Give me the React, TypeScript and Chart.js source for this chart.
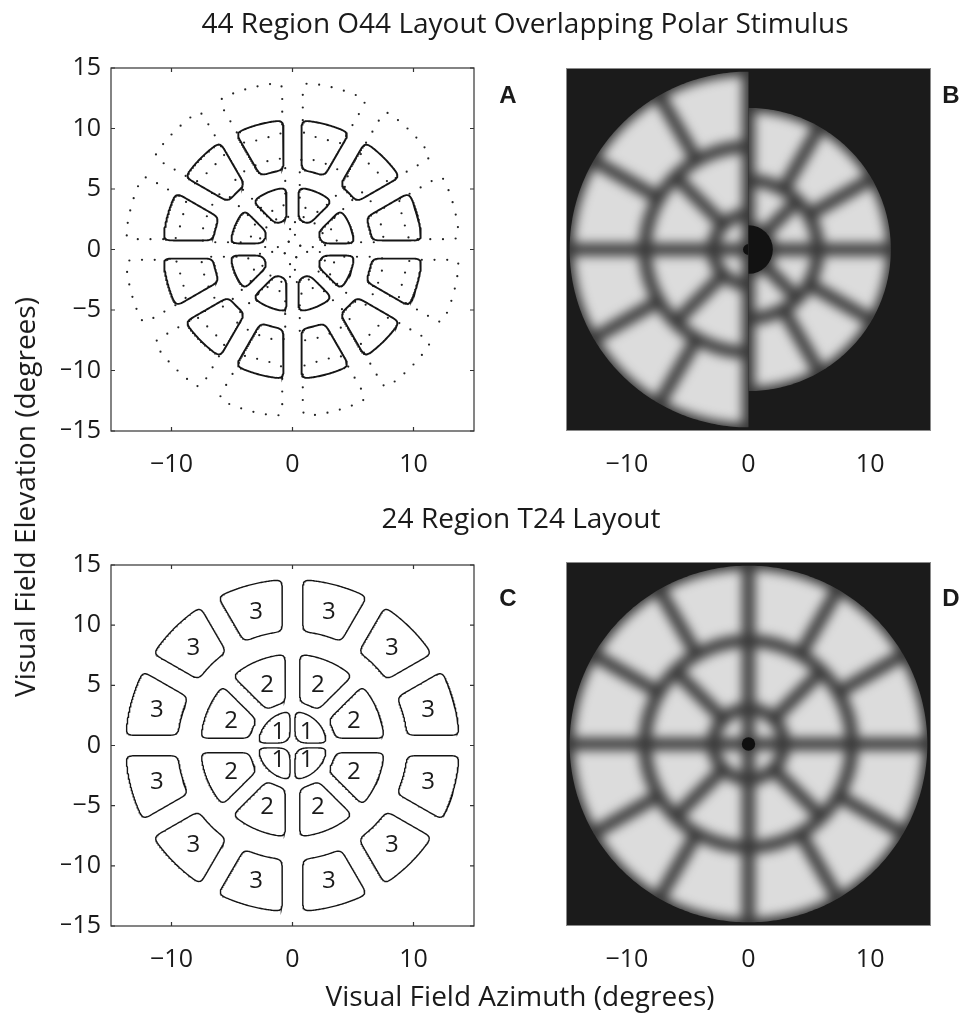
import React, { useEffect, useRef } from 'react';
import { Chart, registerables } from 'chart.js';
Chart.register(...registerables);

// ---------------- Data ----------------
const AXIS_MIN = -15;
const AXIS_MAX = 15;
const X_TICKS = [-10, 0, 10];
const Y_TICKS = [-15, -10, -5, 0, 5, 10, 15];

// T24 layout: ring boundary radii (deg) and number of sectors per ring
const T24_RING_RADII = [0.5, 2.9, 8.5, 14.7];
const T24_SECTORS = [4, 8, 12];
const T24_LABELS = ['1', '2', '3'];
const T24_LABEL_RADII = [1.65, 5.5, 11.6];
const T24_CENTER_DOT = 0.55;

// O44 overlapping half-field layout
const O44_RING_RADII = [2.0, 5.7, 11.7];
const O44_SECTORS = [8, 12];

// contour insets per ring [inner, outer, side] in degrees
const T24_INSETS = [[0.12, 0.05, 0.2], [0.7, 0.9, 0.6], [1.0, 0.9, 0.85]];
const O44_INSETS = [[0.45, 0.55, 0.5], [0.9, 1.0, 0.75]];

const TITLE_TOP = '44 Region O44 Layout Overlapping Polar Stimulus';
const TITLE_BOTTOM = '24 Region T24 Layout';
const X_LABEL = 'Visual Field Azimuth (degrees)';
const Y_LABEL = 'Visual Field Elevation (degrees)';

// ---------------- Style ----------------
const FONT = '"Open Sans", "DejaVu Sans", sans-serif';
const INK = '#1a1a1a';
const BG = '#1b1b1b';
const BASE = '#393939';
const LIGHT = '#dcdcdc';
const GAP = 0.52;
const BLUR = 5.5;
const TICK_SIZE = 25;

type P = { x: number; y: number };
const D2R = Math.PI / 180;

function sectorPolygon(r0: number, r1: number, a0: number, a1: number, dIn: number, dOut: number, dS: number): P[] {
  const ri = r0 + dIn, ro = r1 - dOut;
  const pts: P[] = [];
  const arc = (r: number, from: number, to: number) => {
    const n = Math.max(6, Math.ceil(Math.abs(to - from) * r / 0.05));
    for (let i = 0; i <= n; i++) {
      const t = from + (to - from) * i / n;
      pts.push({ x: r * Math.cos(t), y: r * Math.sin(t) });
    }
  };
  const A0 = a0 * D2R, A1 = a1 * D2R;
  const si = Math.asin(Math.min(1, dS / ri));
  const so = Math.asin(Math.min(1, dS / ro));
  if (A1 - si < A0 + si) {
    const m = (A0 + A1) / 2;
    const apex = dS / Math.sin((A1 - A0) / 2);
    pts.push({ x: apex * Math.cos(m), y: apex * Math.sin(m) });
  } else {
    arc(ri, A0 + si, A1 - si);
  }
  arc(ro, A1 - so, A0 + so);
  return pts;
}

function resampleClosed(pts: P[], step: number): P[] {
  const out: P[] = [];
  const n = pts.length;
  let carry = 0;
  for (let i = 0; i < n; i++) {
    const a = pts[i], b = pts[(i + 1) % n];
    const len = Math.hypot(b.x - a.x, b.y - a.y);
    let t = carry;
    while (t < len) {
      out.push({ x: a.x + (b.x - a.x) * t / len, y: a.y + (b.y - a.y) * t / len });
      t += step;
    }
    carry = t - len;
  }
  return out;
}

function smoothClosed(pts: P[], half: number, passes: number): P[] {
  let cur = pts;
  for (let p = 0; p < passes; p++) {
    const n = cur.length;
    const next: P[] = [];
    for (let i = 0; i < n; i++) {
      let sx = 0, sy = 0;
      for (let j = -half; j <= half; j++) {
        const q = cur[(i + j + n * 4) % n];
        sx += q.x; sy += q.y;
      }
      next.push({ x: sx / (2 * half + 1), y: sy / (2 * half + 1) });
    }
    cur = next;
  }
  return cur;
}

function layoutContours(radii: number[], sectors: number[], insets: number[][]): P[][] {
  const shapes: P[][] = [];
  for (let r = 0; r < sectors.length; r++) {
    const n = sectors[r];
    for (let k = 0; k < n; k++) {
      const a0 = (k * 360) / n, a1 = ((k + 1) * 360) / n;
      const [di, dout, ds] = insets[r];
      const poly = sectorPolygon(radii[r], radii[r + 1], a0, a1, di, dout, ds);
      const dense = resampleClosed(poly, 0.03);
      shapes.push(smoothClosed(dense, 14, 2));
    }
  }
  return shapes;
}

function lineData(shape: P[]): P[] {
  const d = shape.filter((_, i) => i % 3 === 0);
  d.push(d[0]);
  return d;
}

const fmt = (v: number | string) => {
  const n = Number(v);
  return n < 0 ? '\u2212' + Math.abs(n) : String(n);
};

function xScale(padding: number) {
  return {
    type: 'linear' as const,
    min: AXIS_MIN,
    max: AXIS_MAX,
    afterBuildTicks: (s: any) => { s.ticks = X_TICKS.map((v) => ({ value: v })); },
    afterFit: (s: any) => { s.height = 50; },
    grid: { display: false, drawTicks: false },
    border: { display: false },
    ticks: { font: { family: FONT, size: TICK_SIZE }, color: INK, padding, callback: fmt, maxRotation: 0, autoSkip: false },
  };
}

function yScale(show: boolean) {
  const s: any = {
    type: 'linear' as const,
    min: AXIS_MIN,
    max: AXIS_MAX,
    display: show,
    afterBuildTicks: (sc: any) => { sc.ticks = Y_TICKS.map((v) => ({ value: v })); },
    grid: { display: false, drawTicks: false },
    border: { display: false },
    ticks: { font: { family: FONT, size: TICK_SIZE }, color: INK, padding: 10, callback: fmt, autoSkip: false },
  };
  if (show) s.afterFit = (sc: any) => { sc.width = 50; };
  return s;
}

const framePlugin = {
  id: 'frame',
  afterDraw(chart: any) {
    const { ctx, chartArea: ca, scales } = chart;
    const x = scales.x, y = scales.y;
    ctx.save();
    ctx.strokeStyle = '#333';
    ctx.lineWidth = 1.2;
    ctx.strokeRect(ca.left, ca.top, ca.right - ca.left, ca.bottom - ca.top);
    const tl = 4;
    ctx.beginPath();
    for (const v of X_TICKS) {
      const px = x.getPixelForValue(v);
      ctx.moveTo(px, ca.bottom); ctx.lineTo(px, ca.bottom - tl);
      ctx.moveTo(px, ca.top); ctx.lineTo(px, ca.top + tl);
    }
    for (const v of Y_TICKS) {
      const py = y.getPixelForValue(v);
      ctx.moveTo(ca.left, py); ctx.lineTo(ca.left + tl, py);
      ctx.moveTo(ca.right, py); ctx.lineTo(ca.right - tl, py);
    }
    ctx.stroke();
    ctx.restore();
  },
};

const labelPlugin = {
  id: 'regionLabels',
  afterDatasetsDraw(chart: any) {
    const { ctx, scales } = chart;
    const x = scales.x, y = scales.y;
    ctx.save();
    ctx.fillStyle = INK;
    ctx.font = `24px ${FONT}`;
    ctx.textAlign = 'center';
    ctx.textBaseline = 'middle';
    for (let r = 0; r < T24_SECTORS.length; r++) {
      const n = T24_SECTORS[r];
      for (let k = 0; k < n; k++) {
        const a = ((k + 0.5) * 360 / n) * D2R;
        const rr = T24_LABEL_RADII[r];
        ctx.fillText(T24_LABELS[r], x.getPixelForValue(rr * Math.cos(a)), y.getPixelForValue(rr * Math.sin(a)) + 1);
      }
    }
    ctx.restore();
  },
};

type Half = { radii: number[]; sectors: number[]; from: number; to: number; dot?: number; blackInner?: boolean };

function inRange(mid: number, from: number, to: number) {
  const m = ((mid - from) % 360 + 360) % 360;
  return m < to - from;
}

const stimulusPlugin = {
  id: 'stimulus',
  beforeDatasetsDraw(chart: any, _args: any, opts: any) {
    const { ctx, chartArea: ca, scales } = chart;
    const x = scales.x, y = scales.y;
    const px = (p: P) => [x.getPixelForValue(p.x), y.getPixelForValue(p.y)];
    const halves: Half[] = opts.halves || [];
    ctx.save();
    ctx.beginPath();
    ctx.rect(ca.left, ca.top, ca.right - ca.left, ca.bottom - ca.top);
    ctx.clip();
    ctx.fillStyle = BG;
    ctx.fillRect(ca.left, ca.top, ca.right - ca.left, ca.bottom - ca.top);
    const disk = (r: number, color: string) => {
      ctx.beginPath();
      const c = px({ x: 0, y: 0 });
      const e = px({ x: r, y: 0 });
      ctx.arc(c[0], c[1], Math.abs(e[0] - c[0]), 0, Math.PI * 2);
      ctx.fillStyle = color;
      ctx.fill();
    };
    for (const h of halves) {
      ctx.save();
      const R = h.radii[h.radii.length - 1];
      ctx.beginPath();
      const full = h.to - h.from >= 360;
      const steps = Math.ceil(h.to - h.from);
      if (!full) { const c = px({ x: 0, y: 0 }); ctx.moveTo(c[0], c[1]); }
      for (let i = 0; i <= steps; i++) {
        const a = (h.from + (h.to - h.from) * i / steps) * D2R;
        const q = px({ x: R * Math.cos(a), y: R * Math.sin(a) });
        ctx.lineTo(q[0], q[1]);
      }
      ctx.closePath();
      ctx.fillStyle = BASE;
      ctx.fill();
      ctx.clip();
      ctx.filter = `blur(${BLUR}px)`;
      ctx.beginPath();
      for (let r = 0; r < h.sectors.length; r++) {
        const n = h.sectors[r];
        for (let k = 0; k < n; k++) {
          const a0 = k * 360 / n, a1 = (k + 1) * 360 / n;
          if (!inRange((a0 + a1) / 2, h.from, h.to)) continue;
          const outer = r === h.sectors.length - 1 ? GAP * 0.7 : GAP;
          const inner = r === 0 ? GAP * 0.6 : GAP;
          const poly = sectorPolygon(h.radii[r], h.radii[r + 1], a0, a1, inner, outer, GAP);
          poly.forEach((p, i) => {
            const q = px(p);
            if (i === 0) ctx.moveTo(q[0], q[1]); else ctx.lineTo(q[0], q[1]);
          });
          ctx.closePath();
        }
      }
      ctx.fillStyle = LIGHT;
      ctx.fill();
      ctx.filter = 'none';
      if (h.blackInner) disk(h.radii[0], '#121212');
      if (h.dot) disk(h.dot, '#101010');
      ctx.restore();
    }
    ctx.restore();
    ctx.save();
    ctx.strokeStyle = '#8a8a8a';
    ctx.lineWidth = 1;
    ctx.strokeRect(ca.left + 0.5, ca.top + 0.5, ca.right - ca.left - 1, ca.bottom - ca.top - 1);
    ctx.restore();
  },
};

// ---------------- Configs ----------------
function configA() {
  const solid = layoutContours(O44_RING_RADII, O44_SECTORS, O44_INSETS);
  const dotted = layoutContours(T24_RING_RADII, T24_SECTORS, T24_INSETS);
  const datasets: any[] = [];
  solid.forEach((s) => datasets.push({ data: lineData(s), showLine: true, borderColor: '#151515', borderWidth: 1.9, pointRadius: 0, tension: 0, fill: false }));
  dotted.forEach((s) => datasets.push({ data: resampleClosed(s, 1.05), showLine: false, pointRadius: 1.1, pointBorderWidth: 0, pointBackgroundColor: '#222', pointHoverRadius: 0 }));
  return {
    type: 'scatter' as const,
    data: { datasets },
    options: {
      animation: false as const, responsive: false, devicePixelRatio: 1,
      layout: { padding: { left: 61, right: 16, top: 28, bottom: 19 } },
      plugins: { legend: { display: false }, tooltip: { enabled: false } },
      events: [],
      scales: { x: xScale(19), y: yScale(true) },
    },
    plugins: [framePlugin],
  };
}

function configC() {
  const solid = layoutContours(T24_RING_RADII, T24_SECTORS, T24_INSETS);
  const datasets = solid.map((s) => ({ data: lineData(s), showLine: true, borderColor: '#151515', borderWidth: 1.4, pointRadius: 0, tension: 0, fill: false }));
  return {
    type: 'scatter' as const,
    data: { datasets },
    options: {
      animation: false as const, responsive: false, devicePixelRatio: 1,
      layout: { padding: { left: 61, right: 16, top: 23, bottom: 24 } },
      plugins: { legend: { display: false }, tooltip: { enabled: false } },
      events: [],
      scales: { x: xScale(19), y: yScale(true) },
    },
    plugins: [framePlugin, labelPlugin],
  };
}

function configStim(halves: Half[], top: number, bottom: number) {
  return {
    type: 'scatter' as const,
    data: { datasets: [{ data: [] as P[] }] },
    options: {
      animation: false as const, responsive: false, devicePixelRatio: 1,
      layout: { padding: { left: 79, right: 43, top, bottom } },
      plugins: { legend: { display: false }, tooltip: { enabled: false }, stimulus: { halves } } as any,
      events: [],
      scales: { x: xScale(19), y: yScale(false) },
    },
    plugins: [stimulusPlugin],
  };
}

const B_HALVES: Half[] = [
  { radii: T24_RING_RADII, sectors: T24_SECTORS, from: 90, to: 270, dot: 0.45 },
  { radii: O44_RING_RADII, sectors: O44_SECTORS, from: -90, to: 90, blackInner: true },
];
const D_HALVES: Half[] = [
  { radii: T24_RING_RADII, sectors: T24_SECTORS, from: 0, to: 360, dot: T24_CENTER_DOT },
];

function ChartCanvas({ make, left, top, width, height }: { make: () => any; left: number; top: number; width: number; height: number }) {
  const ref = useRef<HTMLCanvasElement>(null);
  useEffect(() => {
    const chart = new Chart(ref.current as HTMLCanvasElement, make());
    return () => chart.destroy();
  }, []);
  return <canvas ref={ref} width={width} height={height} style={{ position: 'absolute', left, top, width, height }} />;
}

const letterStyle = (left: number, top: number): React.CSSProperties => ({
  position: 'absolute', left, top, transform: 'translate(-50%, -50%)',
  fontFamily: '"Liberation Sans", Arial, sans-serif', fontWeight: 'bold', fontSize: 24, color: INK,
});

export default function App() {
  const textBase: React.CSSProperties = { position: 'absolute', fontFamily: FONT, color: INK, whiteSpace: 'nowrap', fontSize: 28 };
  return (
    <div style={{ position: 'absolute', left: 0, top: 0, width: 974, height: 1017, background: '#fff', overflow: 'hidden' }}>
      <ChartCanvas make={configA} left={0} top={40} width={490} height={460} />
      <ChartCanvas make={() => configStim(B_HALVES, 28, 19)} left={487} top={40} width={487} height={460} />
      <ChartCanvas make={configC} left={0} top={540} width={490} height={460} />
      <ChartCanvas make={() => configStim(D_HALVES, 22, 24)} left={487} top={540} width={487} height={460} />
      <div style={{ ...textBase, left: 525, top: 22, transform: 'translate(-50%, -50%)' }}>{TITLE_TOP}</div>
      <div style={{ ...textBase, left: 521, top: 517, transform: 'translate(-50%, -50%)' }}>{TITLE_BOTTOM}</div>
      <div style={{ ...textBase, left: 520, top: 995, transform: 'translate(-50%, -50%)' }}>{X_LABEL}</div>
      <div style={{ ...textBase, left: 24, top: 497, transform: 'translate(-50%, -50%) rotate(-90deg)' }}>{Y_LABEL}</div>
      <div style={letterStyle(508, 95)}>A</div>
      <div style={letterStyle(951, 95)}>B</div>
      <div style={letterStyle(508, 598)}>C</div>
      <div style={letterStyle(951, 598)}>D</div>
    </div>
  );
}
